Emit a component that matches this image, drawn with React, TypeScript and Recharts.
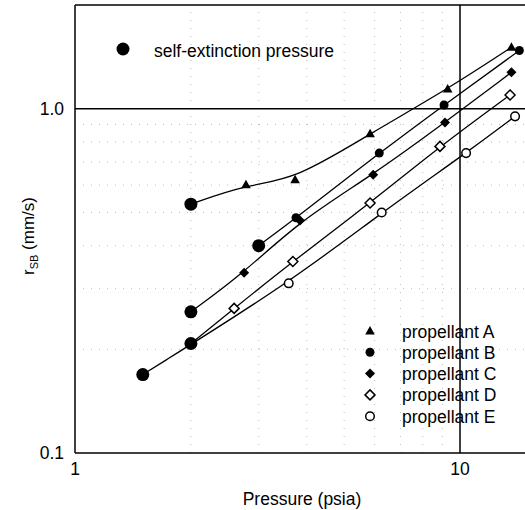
import React from 'react';
import { ScatterChart, Scatter, XAxis, YAxis, ReferenceLine } from 'recharts';

// self-extinction pressure points (start of each propellant curve: A, B, C, D, E)
const EXT_P = [2.0, 3.0, 2.0, 2.0, 1.5];
const EXT_R = [0.528, 0.4, 0.257, 0.208, 0.169];

// burning rate data per propellant
const A_P = [2.78, 3.73, 5.84, 9.29, 13.6];
const A_R = [0.601, 0.622, 0.846, 1.14, 1.507];
const B_P = [3.75, 6.17, 9.09, 14.26];
const B_R = [0.482, 0.743, 1.025, 1.475];
const C_P = [2.75, 3.84, 5.95, 9.14, 13.6];
const C_R = [0.334, 0.473, 0.643, 0.912, 1.275];
const D_P = [2.59, 3.68, 5.84, 8.87, 13.49];
const D_R = [0.263, 0.36, 0.532, 0.777, 1.096];
const E_P = [3.59, 6.26, 10.37, 13.9];
const E_R = [0.311, 0.4995, 0.743, 0.95];

const NAMES = ['propellant A', 'propellant B', 'propellant C', 'propellant D', 'propellant E'];
const KINDS = ['triangle', 'dot', 'diamond', 'openDiamond', 'openCircle'];

const X_TICKS = [1, 10];
const Y_TICKS = [0.1, 1.0];
const MINOR_X = [2, 3, 4, 5, 6, 7, 8, 9];
const MINOR_Y = [0.2, 0.3, 0.4, 0.5, 0.6, 0.7, 0.8, 0.9];

const FONT = '"Liberation Sans", Arial, sans-serif';

const series = [
  [A_P, A_R],
  [B_P, B_R],
  [C_P, C_R],
  [D_P, D_R],
  [E_P, E_R],
].map(([ps, rs], i) => [
  { p: EXT_P[i], r: EXT_R[i], ext: true },
  ...ps.map((p, j) => ({ p, r: rs[j], ext: false })),
]);

const extData = EXT_P.map((p, i) => ({ p, r: EXT_R[i] }));

function marker(kind: string, cx: number, cy: number) {
  switch (kind) {
    case 'triangle':
      return <polygon points={`${cx},${cy - 5} ${cx + 4.8},${cy + 3.5} ${cx - 4.8},${cy + 3.5}`} fill="#000" />;
    case 'dot':
      return <circle cx={cx} cy={cy} r={4.5} fill="#000" />;
    case 'diamond':
      return <polygon points={`${cx},${cy - 5} ${cx + 5},${cy} ${cx},${cy + 5} ${cx - 5},${cy}`} fill="#000" />;
    case 'openDiamond':
      return (
        <polygon
          points={`${cx},${cy - 5} ${cx + 5},${cy} ${cx},${cy + 5} ${cx - 5},${cy}`}
          fill="#fff"
          stroke="#000"
          strokeWidth={1.5}
        />
      );
    case 'openCircle':
      return <circle cx={cx} cy={cy} r={4.3} fill="#fff" stroke="#000" strokeWidth={1.5} />;
    default:
      return <circle cx={cx} cy={cy} r={6.5} fill="#000" />;
  }
}

export default function App() {
  return (
    <div style={{ position: 'absolute', left: 0, top: 0, width: 525, height: 510, background: '#fff', fontFamily: FONT }}>
      <ScatterChart width={525} height={510} margin={{ top: 5, right: 0, bottom: 0, left: 0 }}>
        <XAxis
          type="number"
          dataKey="p"
          scale="log"
          domain={[1, 14.75]}
          allowDataOverflow
          ticks={X_TICKS}
          tickFormatter={(v: number) => String(v)}
          height={57}
          tickLine={false}
          tickMargin={4}
          axisLine={{ stroke: '#000', strokeWidth: 1.5 }}
          tick={{ fill: '#000', fontSize: 17.5, fontFamily: FONT }}
        />
        <YAxis
          type="number"
          dataKey="r"
          scale="log"
          domain={[0.1, 2.0]}
          allowDataOverflow
          ticks={Y_TICKS}
          tickFormatter={(v: number) => v.toFixed(1)}
          width={75}
          tickLine={false}
          tickMargin={5}
          axisLine={{ stroke: '#000', strokeWidth: 1.5 }}
          tick={{ fill: '#000', fontSize: 17.5, fontFamily: FONT }}
        />
        {MINOR_X.map((v) => (
          <ReferenceLine key={'mx' + v} x={v} stroke="#bbb" strokeDasharray="1 7" />
        ))}
        {MINOR_Y.map((v) => (
          <ReferenceLine key={'my' + v} y={v} stroke="#bbb" strokeDasharray="1 7" />
        ))}
        <ReferenceLine x={10} stroke="#000" strokeWidth={1.5} />
        <ReferenceLine y={1.0} stroke="#000" strokeWidth={1.5} />
        <ReferenceLine y={2.0} stroke="#000" strokeWidth={1.5} />
        {series.map((data, i) => (
          <Scatter
            key={NAMES[i]}
            name={NAMES[i]}
            data={data}
            fill="#000"
            line={{ stroke: '#000', strokeWidth: 1.3 }}
            lineType="joint"
            lineJointType="basis"
            isAnimationActive={false}
            shape={(props: any) => (props.payload && props.payload.ext ? <g /> : marker(KINDS[i], props.cx, props.cy))}
          />
        ))}
        <Scatter
          name="self-extinction pressure"
          data={extData}
          fill="#000"
          isAnimationActive={false}
          shape={(props: any) => marker('ext', props.cx, props.cy)}
        />
      </ScatterChart>
      <svg
        width={525}
        height={510}
        style={{ position: 'absolute', left: 0, top: 0, pointerEvents: 'none' }}
        fontFamily={FONT}
      >
        {marker('ext', 123, 49)}
        <text x={154} y={57} fontSize={17.5} fill="#000">
          self-extinction pressure
        </text>
        {NAMES.map((n, i) => {
          const cy = 331 + i * 21.3;
          return (
            <g key={n}>
              {marker(KINDS[i], 370, cy)}
              <text x={402} y={cy + 6.5} fontSize={17.5} fill="#000">
                {n}
              </text>
            </g>
          );
        })}
        <text x={302} y={505} fontSize={17.5} fill="#000" textAnchor="middle">
          Pressure (psia)
        </text>
        <text x={34} y={236} fontSize={17} fill="#000" textAnchor="middle" transform="rotate(-90 34 236)">
          r<tspan dy={4} fontSize={11}>SB</tspan>
          <tspan dy={-4}> (mm/s)</tspan>
        </text>
      </svg>
    </div>
  );
}
